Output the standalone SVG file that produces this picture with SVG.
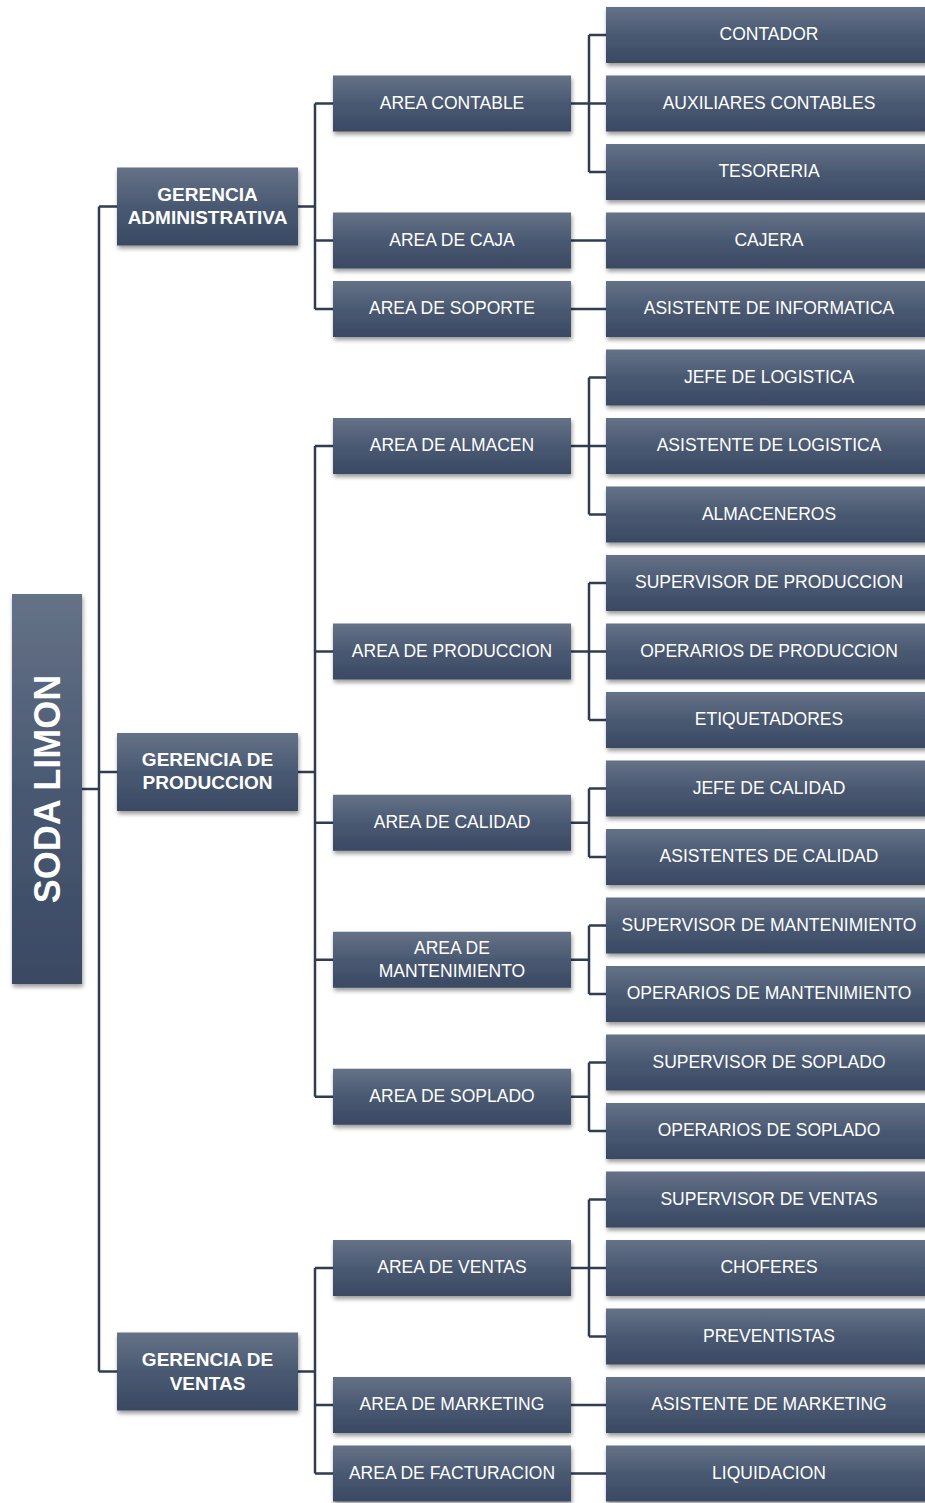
<svg xmlns="http://www.w3.org/2000/svg" width="925" height="1503" viewBox="0 0 925 1503">
<defs>
<linearGradient id="g" x1="0" y1="0" x2="0" y2="1">
<stop offset="0" stop-color="#657287"/>
<stop offset="0.5" stop-color="#4a5972"/>
<stop offset="1" stop-color="#3a4963"/>
</linearGradient>
<filter id="sh" x="-10%" y="-10%" width="125%" height="140%">
<feDropShadow dx="1" dy="3" stdDeviation="2" flood-color="#000" flood-opacity="0.4"/>
</filter>
</defs>
<style>
rect.b{fill:url(#g);filter:url(#sh)}
text{fill:#ffffff;font-family:"Liberation Sans",Arial,sans-serif;font-size:17.5px;text-anchor:middle}
text.bd{font-weight:bold;font-size:19px}
text.root{font-weight:bold;font-size:36px}
#connectors path{fill:none;stroke:#2f3d52;stroke-width:2.5}
</style>
<rect width="925" height="1503" fill="#ffffff"/>
<g id="connectors">
<path d="M82 789H99M99 206.5V1371.5M99 206.5H117M99 772H117M99 1371.5H117"/>
<path d="M298 206.5H315M315 103.5V309M315 103.5H333M315 240.5H333M315 309H333"/>
<path d="M298 772H315M315 446V1096.75M315 446H333M315 651.5H333M315 822.75H333M315 959.75H333M315 1096.75H333"/>
<path d="M298 1371.5H315M315 1268V1473.5M315 1268H333M315 1405H333M315 1473.5H333"/>
<path d="M571 103.5H589M589 35V172M589 35H606M589 103.5H606M589 172H606"/>
<path d="M571 240.5H606M571 309H606"/>
<path d="M571 446H589M589 377.5V514.5M589 377.5H606M589 446H606M589 514.5H606"/>
<path d="M571 651.5H589M589 583V720M589 583H606M589 651.5H606M589 720H606"/>
<path d="M571 822.75H589M589 788.5V857M589 788.5H606M589 857H606"/>
<path d="M571 959.75H589M589 925.5V994M589 925.5H606M589 994H606"/>
<path d="M571 1096.75H589M589 1062.5V1131M589 1062.5H606M589 1131H606"/>
<path d="M571 1268H589M589 1199.5V1336.5M589 1199.5H606M589 1268H606M589 1336.5H606"/>
<path d="M571 1405H606M571 1473.5H606"/>
</g>
<g id="root"><rect class="b" x="12" y="594" width="70" height="390"/><text class="root" transform="translate(47,789) rotate(-90)" x="0" y="13">SODA LIMON</text></g>
<g id="ger-adm"><rect class="b" x="117" y="167.5" width="181" height="78"/><text class="bd" x="207.5" y="200.8">GERENCIA</text><text class="bd" x="207.5" y="223.8">ADMINISTRATIVA</text></g>
<g id="ger-prod"><rect class="b" x="117" y="733" width="181" height="78"/><text class="bd" x="207.5" y="766.3">GERENCIA DE</text><text class="bd" x="207.5" y="789.3">PRODUCCION</text></g>
<g id="ger-ven"><rect class="b" x="117" y="1332.5" width="181" height="78"/><text class="bd" x="207.5" y="1366">GERENCIA DE</text><text class="bd" x="207.5" y="1389.5">VENTAS</text></g>
<g id="a-contable"><rect class="b" x="333" y="75.5" width="238" height="56"/><text x="452" y="108.5">AREA CONTABLE</text></g>
<g id="a-caja"><rect class="b" x="333" y="212.5" width="238" height="56"/><text x="452" y="245.5">AREA DE CAJA</text></g>
<g id="a-soporte"><rect class="b" x="333" y="281" width="238" height="56"/><text x="452" y="314">AREA DE SOPORTE</text></g>
<g id="a-almacen"><rect class="b" x="333" y="418" width="238" height="56"/><text x="452" y="451">AREA DE ALMACEN</text></g>
<g id="a-produccion"><rect class="b" x="333" y="623.5" width="238" height="56"/><text x="452" y="656.5">AREA DE PRODUCCION</text></g>
<g id="a-calidad"><rect class="b" x="333" y="794.75" width="238" height="56"/><text x="452" y="827.75">AREA DE CALIDAD</text></g>
<g id="a-mant"><rect class="b" x="333" y="931.75" width="238" height="56"/><text x="452" y="954.3">AREA DE</text><text x="452" y="977.3">MANTENIMIENTO</text></g>
<g id="a-soplado"><rect class="b" x="333" y="1068.75" width="238" height="56"/><text x="452" y="1101.75">AREA DE SOPLADO</text></g>
<g id="a-ventas"><rect class="b" x="333" y="1240" width="238" height="56"/><text x="452" y="1273">AREA DE VENTAS</text></g>
<g id="a-marketing"><rect class="b" x="333" y="1377" width="238" height="56"/><text x="452" y="1410">AREA DE MARKETING</text></g>
<g id="a-facturacion"><rect class="b" x="333" y="1445.5" width="238" height="56"/><text x="452" y="1478.5">AREA DE FACTURACION</text></g>
<g id="r0"><rect class="b" x="606" y="7" width="326" height="56"/><text x="769" y="40">CONTADOR</text></g>
<g id="r1"><rect class="b" x="606" y="75.5" width="326" height="56"/><text x="769" y="108.5">AUXILIARES CONTABLES</text></g>
<g id="r2"><rect class="b" x="606" y="144" width="326" height="56"/><text x="769" y="177">TESORERIA</text></g>
<g id="r3"><rect class="b" x="606" y="212.5" width="326" height="56"/><text x="769" y="245.5">CAJERA</text></g>
<g id="r4"><rect class="b" x="606" y="281" width="326" height="56"/><text x="769" y="314">ASISTENTE DE INFORMATICA</text></g>
<g id="r5"><rect class="b" x="606" y="349.5" width="326" height="56"/><text x="769" y="382.5">JEFE DE LOGISTICA</text></g>
<g id="r6"><rect class="b" x="606" y="418" width="326" height="56"/><text x="769" y="451">ASISTENTE DE LOGISTICA</text></g>
<g id="r7"><rect class="b" x="606" y="486.5" width="326" height="56"/><text x="769" y="519.5">ALMACENEROS</text></g>
<g id="r8"><rect class="b" x="606" y="555" width="326" height="56"/><text x="769" y="588">SUPERVISOR DE PRODUCCION</text></g>
<g id="r9"><rect class="b" x="606" y="623.5" width="326" height="56"/><text x="769" y="656.5">OPERARIOS DE PRODUCCION</text></g>
<g id="r10"><rect class="b" x="606" y="692" width="326" height="56"/><text x="769" y="725">ETIQUETADORES</text></g>
<g id="r11"><rect class="b" x="606" y="760.5" width="326" height="56"/><text x="769" y="793.5">JEFE DE CALIDAD</text></g>
<g id="r12"><rect class="b" x="606" y="829" width="326" height="56"/><text x="769" y="862">ASISTENTES DE CALIDAD</text></g>
<g id="r13"><rect class="b" x="606" y="897.5" width="326" height="56"/><text x="769" y="930.5">SUPERVISOR DE MANTENIMIENTO</text></g>
<g id="r14"><rect class="b" x="606" y="966" width="326" height="56"/><text x="769" y="999">OPERARIOS DE MANTENIMIENTO</text></g>
<g id="r15"><rect class="b" x="606" y="1034.5" width="326" height="56"/><text x="769" y="1067.5">SUPERVISOR DE SOPLADO</text></g>
<g id="r16"><rect class="b" x="606" y="1103" width="326" height="56"/><text x="769" y="1136">OPERARIOS DE SOPLADO</text></g>
<g id="r17"><rect class="b" x="606" y="1171.5" width="326" height="56"/><text x="769" y="1204.5">SUPERVISOR DE VENTAS</text></g>
<g id="r18"><rect class="b" x="606" y="1240" width="326" height="56"/><text x="769" y="1273">CHOFERES</text></g>
<g id="r19"><rect class="b" x="606" y="1308.5" width="326" height="56"/><text x="769" y="1341.5">PREVENTISTAS</text></g>
<g id="r20"><rect class="b" x="606" y="1377" width="326" height="56"/><text x="769" y="1410">ASISTENTE DE MARKETING</text></g>
<g id="r21"><rect class="b" x="606" y="1445.5" width="326" height="56"/><text x="769" y="1478.5">LIQUIDACION</text></g>
</svg>
